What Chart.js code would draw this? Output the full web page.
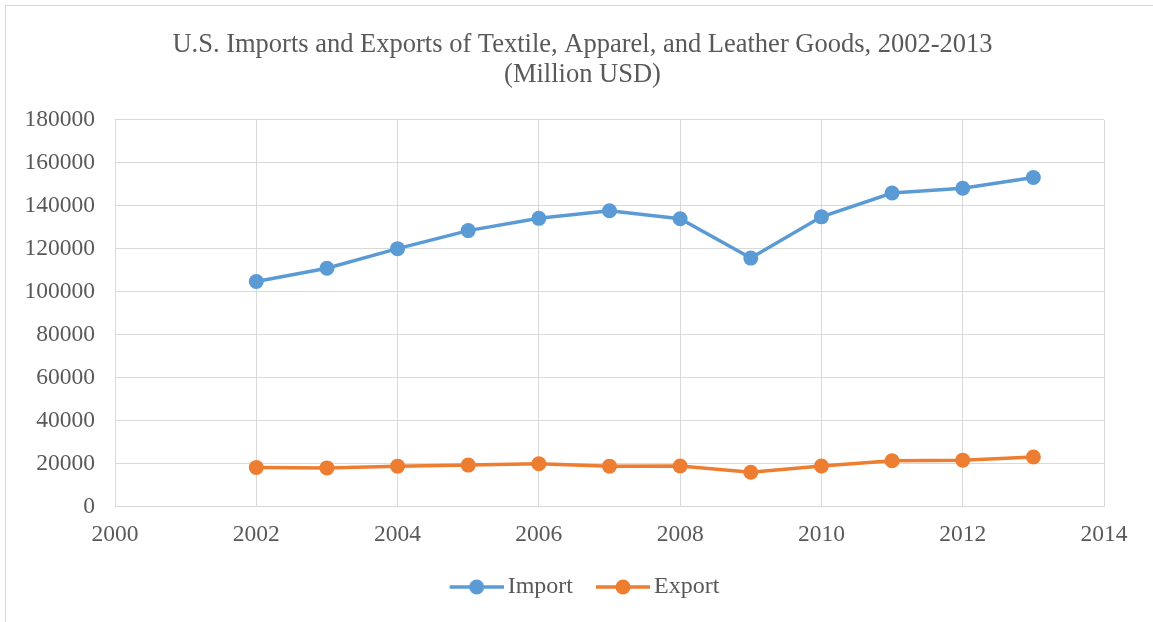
<!DOCTYPE html>
<html>
<head>
<meta charset="utf-8">
<title>U.S. Imports and Exports of Textile, Apparel, and Leather Goods</title>
<script src="https://cdn.jsdelivr.net/npm/chart.js@4/dist/chart.umd.min.js"></script>
<style>
  html, body { margin: 0; padding: 0; background: #fff; overflow: hidden; }
  .frame { position: absolute; left: 5px; top: 5px; width: 1200px; height: 700px; border: 1px solid #d9d9d9; }
  .wrap { position: absolute; left: 0; top: 0; width: 1153px; height: 622px; }
</style>
</head>
<body>
<div class="frame"></div>
<div class="wrap"><canvas id="tradeChart"></canvas></div>
<script>
// Data (million USD)
const years = [2002, 2003, 2004, 2005, 2006, 2007, 2008, 2009, 2010, 2011, 2012, 2013];
const imports = [104800, 111000, 120100, 128500, 134200, 137700, 134000, 115700, 134900, 146000, 148200, 153200];
const exports = [18300, 18100, 18900, 19400, 20000, 18900, 19000, 16100, 19000, 21400, 21700, 23200];
const titleLines = ['U.S. Imports and Exports of Textile, Apparel, and Leather Goods, 2002-2013', '(Million USD)'];

const FONT = '"Liberation Serif", "Times New Roman", serif';
const TEXT = '#595959';
const GRID = '#d9d9d9';
const BLUE = '#5b9bd5';
const ORANGE = '#ed7d31';

// legend marker: short line with a dot, drawn in the right part of the image
function legendMarker(color) {
    const c = document.createElement('canvas');
    c.width = 66;
    c.height = 18;
    const g = c.getContext('2d');
    g.strokeStyle = color;
    g.lineWidth = 3.5;
    g.beginPath();
    g.moveTo(12, 9);
    g.lineTo(66, 9);
    g.stroke();
    g.fillStyle = color;
    g.beginPath();
    g.arc(39, 9, 7.5, 0, Math.PI * 2);
    g.fill();
    return c;
}

function series(label, values, color) {
    return {
        label: label,
        data: years.map((y, i) => ({ x: y, y: values[i] })),
        borderColor: color,
        backgroundColor: color,
        borderWidth: 3.5,
        pointRadius: 7.5,
        pointHoverRadius: 7.5,
        pointBorderWidth: 0,
        pointBackgroundColor: color,
        tension: 0,
        pointStyle: 'circle',
        legendMarker: legendMarker(color)
    };
}

const ctx = document.getElementById('tradeChart').getContext('2d');
new Chart(ctx, {
    type: 'line',
    data: {
        datasets: [
            series('Import', imports, BLUE),
            series('Export', exports, ORANGE)
        ]
    },
    options: {
        responsive: true,
        maintainAspectRatio: false,
        animation: false,
        layout: {
            padding: { left: 14, right: 2, top: 0, bottom: 13 }
        },
        plugins: {
            title: {
                display: true,
                text: titleLines,
                color: TEXT,
                font: { family: FONT, size: 26.5, weight: 'normal', lineHeight: 1.13 },
                padding: { top: 30, bottom: 30 }
            },
            legend: {
                position: 'bottom',
                labels: {
                    color: TEXT,
                    font: { family: FONT, size: 24 },
                    usePointStyle: true,
                    pointStyleWidth: 50,
                    padding: 19,
                    generateLabels: function(chart) {
                        return chart.data.datasets.map((ds, i) => ({
                            text: ds.label,
                            fontColor: TEXT,
                            pointStyle: ds.legendMarker,
                            datasetIndex: i,
                            lineWidth: 0,
                            hidden: false
                        }));
                    }
                }
            },
            tooltip: { enabled: false }
        },
        scales: {
            x: {
                type: 'linear',
                min: 2000,
                max: 2014,
                ticks: {
                    stepSize: 2,
                    color: TEXT,
                    padding: 14,
                    font: { family: FONT, size: 23.5 },
                    callback: v => String(v)
                },
                grid: { color: GRID, lineWidth: 1, drawTicks: false },
                border: { color: GRID, width: 1 },
                afterFit: s => { s.height -= 7; }
            },
            y: {
                min: 0,
                max: 180000,
                ticks: {
                    stepSize: 20000,
                    color: TEXT,
                    padding: 20,
                    font: { family: FONT, size: 23.5 },
                    callback: v => String(v)
                },
                grid: { color: GRID, lineWidth: 1, drawTicks: false },
                border: { color: GRID, width: 1 },
                afterFit: s => { s.width = 101; }
            },
            // empty right-hand axis, only reserves the margin right of the plot
            yRight: {
                position: 'right',
                display: true,
                ticks: { display: false },
                grid: { drawOnChartArea: false, drawTicks: false },
                border: { display: false },
                afterFit: s => { s.width = 47; }
            }
        }
    }
});
</script>
</body>
</html>
